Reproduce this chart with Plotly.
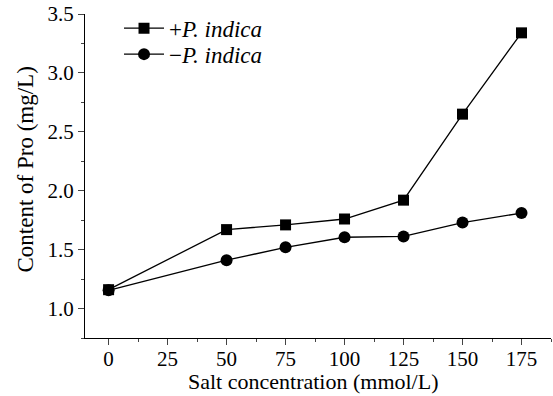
import plotly.graph_objects as go

salt = [0, 50, 75, 100, 125, 150, 175]
plus_pi = [1.16, 1.67, 1.71, 1.76, 1.92, 2.65, 3.34]
minus_pi = [1.155, 1.41, 1.52, 1.605, 1.612, 1.73, 1.81]
x_ticks = [0, 25, 50, 75, 100, 125, 150, 175]
y_ticks = [1.0, 1.5, 2.0, 2.5, 3.0, 3.5]

font = "Liberation Serif, Times New Roman, serif"

fig = go.Figure()
fig.add_trace(go.Scatter(
    x=salt, y=plus_pi, mode="lines+markers", name="+<i>P. indica</i>",
    line=dict(color="black", width=1.3),
    marker=dict(symbol="square", size=11, color="black"),
    legend="legend",
))
fig.add_trace(go.Scatter(
    x=salt, y=minus_pi, mode="lines+markers", name="\u2212<i>P. indica</i>",
    line=dict(color="black", width=1.3),
    marker=dict(symbol="circle", size=12, color="black"),
    legend="legend2",
))

leg_common = dict(xanchor="left", yanchor="middle", bgcolor="rgba(0,0,0,0)",
                  font=dict(size=23), itemwidth=40)

fig.update_layout(
    width=553, height=396,
    margin=dict(l=85, r=2, t=14, b=58),
    paper_bgcolor="white", plot_bgcolor="white",
    font=dict(family=font, size=21, color="black"),
    showlegend=True,
    legend=dict(x=0.073, y=0.956, **leg_common),
    legend2=dict(x=0.073, y=0.876, **leg_common),
    xaxis=dict(range=[-10, 187.5], tickvals=x_ticks, ticks="outside",
               ticklen=6, tickwidth=1.3, showline=True, linecolor="black",
               linewidth=1.3, showgrid=False, zeroline=False, automargin=False,
               ticklabelstandoff=-4, ticklabeloverflow="allow",
               minor=dict(dtick=12.5, tick0=0, ticks="outside", ticklen=3, tickwidth=1.2),
               tickfont=dict(size=21)),
    yaxis=dict(range=[0.75, 3.5], tickvals=y_ticks, tickformat=".1f",
               ticks="outside", ticklen=6, tickwidth=1.3, showline=True,
               linecolor="black", linewidth=1.3, showgrid=False, zeroline=False,
               automargin=False, ticklabeloverflow="allow",
               minor=dict(dtick=0.25, tick0=0, ticks="outside", ticklen=3, tickwidth=1.2),
               tickfont=dict(size=21)),
    annotations=[
        dict(text="Salt concentration (mmol/L)", xref="paper", yref="paper",
             x=0.491, y=0, yshift=-43, xanchor="center", yanchor="middle",
             showarrow=False, font=dict(size=22)),
        dict(text="Content of Pro (mg/L)", xref="paper", yref="paper",
             x=0, y=0.52, xshift=-59, xanchor="center", yanchor="middle",
             textangle=-90, showarrow=False, font=dict(size=23)),
    ],
)

fig.write_html("out.html", config={"displayModeBar": False},
               post_script="document.body.style.margin='0';")
